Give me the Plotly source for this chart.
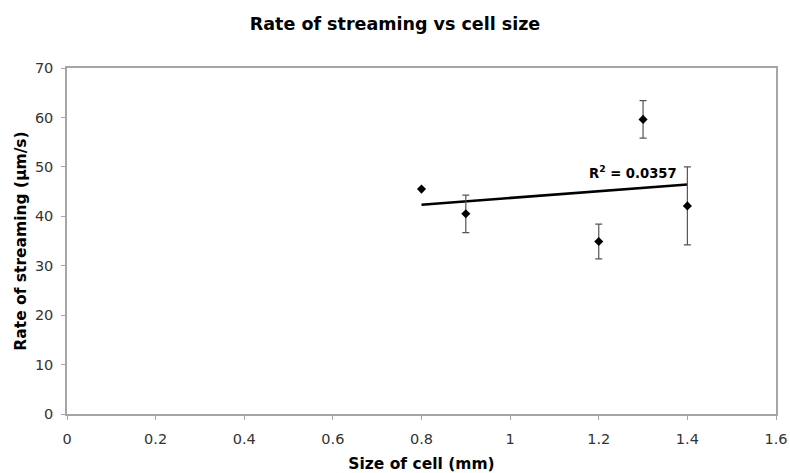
import numpy as np
import plotly.graph_objects as go

cell_size = [0.8, 0.9, 1.2, 1.3, 1.4]
streaming_rate = [45.5, 40.5, 34.9, 59.6, 42.1]
error = [0.0, 3.8, 3.5, 3.8, 7.9]
x_ticks = [0, 0.2, 0.4, 0.6, 0.8, 1, 1.2, 1.4, 1.6]
x_tick_labels = ["0", "0.2", "0.4", "0.6", "0.8", "1", "1.2", "1.4", "1.6"]
y_ticks = [0, 10, 20, 30, 40, 50, 60, 70]
r2_label = "R<sup>2</sup> = 0.0357"

slope, intercept = np.polyfit(cell_size, streaming_rate, 1)
trend_x = [min(cell_size), max(cell_size)]
trend_y = [slope * v + intercept for v in trend_x]

font = "DejaVu Sans, Verdana, sans-serif"
W, H = 790, 473

fig = go.Figure()
fig.add_trace(go.Scatter(
    x=trend_x, y=trend_y, mode="lines",
    line=dict(color="black", width=2.6), hoverinfo="skip", showlegend=False,
))
fig.add_trace(go.Scatter(
    x=cell_size, y=streaming_rate, mode="markers",
    marker=dict(symbol="diamond", size=7, color="black"),
    error_y=dict(type="data", array=error, visible=True, color="#555555",
                 thickness=1.2, width=3.5),
    showlegend=False,
))
fig.add_annotation(
    x=trend_x[1], y=trend_y[1], xref="x", yref="y",
    text=r2_label, showarrow=False, xanchor="right", yanchor="bottom",
    xshift=-8, yshift=1,
    font=dict(family=font, size=13.2, color="black", weight="bold"),
)

fig.update_layout(
    width=W, height=H,
    margin=dict(l=66.5, r=13.5, t=68, b=59),
    paper_bgcolor="white", plot_bgcolor="white",
    title=dict(text="<b>Rate of streaming vs cell size</b>", x=0.5, xanchor="center",
               y=1 - 24 / H, yanchor="middle",
               font=dict(family=font, size=17.5, color="black")),
    xaxis=dict(range=[0, 1.6], tickvals=x_ticks, ticktext=x_tick_labels,
               automargin=False,
               showgrid=False, zeroline=False, showline=True, linecolor="#a6a6a6",
               linewidth=1.5, mirror=True, ticks="outside", ticklen=4,
               tickcolor="#a6a6a6", ticklabelstandoff=7,
               tickfont=dict(family=font, size=14.5, color="#333333"),
               title=dict(text="<b>Size of cell (mm)</b>", standoff=18,
                          font=dict(family=font, size=15.5, color="black"))),
    yaxis=dict(range=[0, 70], tickvals=y_ticks, showgrid=False, zeroline=False,
               automargin=False,
               showline=True, linecolor="#a6a6a6", linewidth=1.5, mirror=True,
               ticks="outside", ticklen=4, tickcolor="#a6a6a6", ticklabelstandoff=5,
               tickfont=dict(family=font, size=14.5, color="#333333"),
               title=dict(text="<b>Rate of streaming (μm/s)</b>", standoff=4,
                          font=dict(family=font, size=15.5, color="black"))),
)

fig.write_html(
    "out.html",
    config={"displayModeBar": False},
    post_script="document.body.style.margin='0';document.documentElement.style.overflow='hidden';",
)
